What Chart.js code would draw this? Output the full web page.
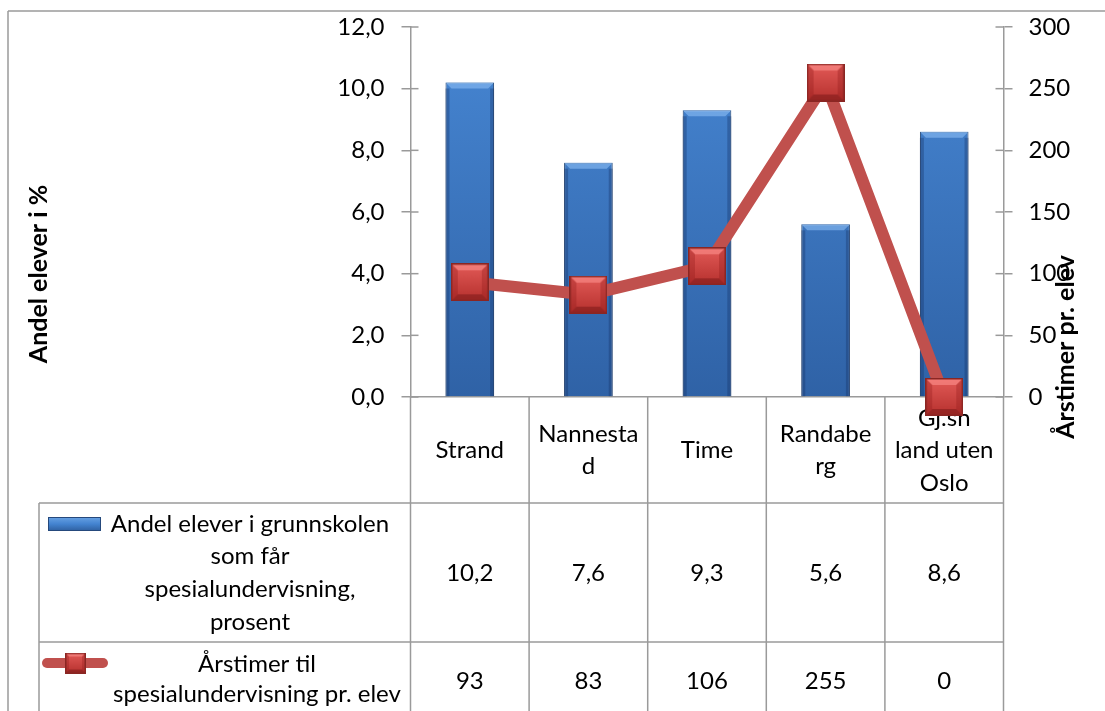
<!DOCTYPE html>
<html lang="no">
<head>
<meta charset="utf-8">
<title>Spesialundervisning</title>
<script src="https://cdn.jsdelivr.net/npm/chart.js@4.4.1/dist/chart.umd.min.js"></script>
<style>
  html, body { margin: 0; padding: 0; background: #fff; }
  #ramme { width: 1105px; height: 711px; position: relative; }
</style>
</head>
<body>
<div id="ramme"><canvas id="grafCanvas"></canvas></div>
<script>
// Kategorier (kolonnetekstene i tabellen, delt i linjer slik som i Excel)
const kommuner = [['Strand'], ['Nannesta', 'd'], ['Time'], ['Randabe', 'rg'], ['Gj.sn', 'land uten', 'Oslo']];

// Serier
const andelElever = [10.2, 7.6, 9.3, 5.6, 8.6];
const arstimer = [93, 83, 106, 255, 0];

// Akser
const venstreAkse = { min: 0, max: 12, steg: 2 };
const hoyreAkse = { min: 0, max: 300, steg: 50 };

// Tekster
const tittelVenstre = 'Andel elever i %';
const tittelHoyre = 'Årstimer pr. elev';
const navnSoyle = ['Andel elever i grunnskolen', 'som får', 'spesialundervisning,', 'prosent'];
const navnLinje = ['Årstimer til', 'spesialundervisning pr. elev'];

const FONT = 'Lato, "Open Sans", sans-serif';
const GRAA = '#9a9a9a';
const ROD = '#c0504d';

// Formatere tall med komma
function komma(v) {
    return v.toFixed(1).replace('.', ',');
}

// Lag markøren (firkant med skråkant) som et lite canvas
function lagMarkor(side) {
    const c = document.createElement('canvas');
    c.width = side;
    c.height = side;
    const g = c.getContext('2d');
    const k = Math.round(side * 0.18);
    // bunnfarge
    const grad = g.createLinearGradient(0, 0, 0, side);
    grad.addColorStop(0, '#e35b58');
    grad.addColorStop(1, '#b5302d');
    g.fillStyle = grad;
    g.fillRect(0, 0, side, side);
    // topp-skråkant
    g.fillStyle = 'rgba(255,150,145,0.55)';
    g.beginPath();
    g.moveTo(0, 0); g.lineTo(side, 0); g.lineTo(side - k, k); g.lineTo(k, k); g.closePath();
    g.fill();
    // sider
    g.fillStyle = 'rgba(150,30,30,0.35)';
    g.beginPath();
    g.moveTo(0, 0); g.lineTo(k, k); g.lineTo(k, side - k); g.lineTo(0, side); g.closePath();
    g.fill();
    g.beginPath();
    g.moveTo(side, 0); g.lineTo(side - k, k); g.lineTo(side - k, side - k); g.lineTo(side, side); g.closePath();
    g.fill();
    // bunn-skråkant
    g.fillStyle = 'rgba(110,20,20,0.45)';
    g.beginPath();
    g.moveTo(0, side); g.lineTo(k, side - k); g.lineTo(side - k, side - k); g.lineTo(side, side); g.closePath();
    g.fill();
    g.strokeStyle = '#8a2623';
    g.lineWidth = 1.5;
    g.strokeRect(0.75, 0.75, side - 1.5, side - 1.5);
    return c;
}

const markorStor = lagMarkor(38);
const markorLiten = lagMarkor(21);

function strek(ctx, x1, y1, x2, y2) {
    ctx.beginPath();
    ctx.moveTo(x1, y1);
    ctx.lineTo(x2, y2);
    ctx.stroke();
}

// Plugin som tegner datatabellen, aksetitlene og rammen
const tabellPlugin = {
    id: 'tabell',
    beforeDatasetsDraw(chart) {
        const ctx = chart.ctx;
        const area = chart.chartArea;
        const xs = chart.scales.x;
        const n = kommuner.length;
        const bredde = (area.right - area.left) / n;
        const bunn = chart.height;
        const rad1 = 503;
        const rad2 = 642;
        const venstreKant = 39;

        ctx.save();
        ctx.strokeStyle = GRAA;
        ctx.lineWidth = 1.5;

        // ytre ramme
        strek(ctx, 8, 11, chart.width, 11);
        strek(ctx, 8, 11, 8, bunn);

        // kolonnelinjer
        for (let i = 0; i <= n; i++) {
            const px = xs.getPixelForValue(0) - bredde / 2 + i * bredde;
            strek(ctx, px, area.bottom, px, bunn);
        }
        // radlinjer
        strek(ctx, venstreKant, rad1, area.right, rad1);
        strek(ctx, venstreKant, rad2, area.right, rad2);
        strek(ctx, venstreKant, rad1, venstreKant, bunn);

        // indre del av tikkmerkene
        const yv = chart.scales.y;
        yv.ticks.forEach((t, i) => {
            const py = yv.getPixelForTick(i);
            strek(ctx, area.left, py, area.left + 8, py);
        });
        const yh = chart.scales.y1;
        yh.ticks.forEach((t, i) => {
            const py = yh.getPixelForTick(i);
            strek(ctx, area.right - 8, py, area.right, py);
        });

        // verdier i tabellen
        ctx.fillStyle = '#000';
        ctx.font = '24px ' + FONT;
        ctx.textAlign = 'center';
        ctx.textBaseline = 'middle';
        andelElever.forEach((v, i) => {
            ctx.fillText(komma(v), xs.getPixelForValue(i), (rad1 + rad2) / 2 + 1);
        });
        arstimer.forEach((v, i) => {
            ctx.fillText(String(v), xs.getPixelForValue(i), 681);
        });

        // serienavn
        navnSoyle.forEach((linje, i) => {
            ctx.fillText(linje, 250, 524 + i * 32.6);
        });
        navnLinje.forEach((linje, i) => {
            ctx.fillText(linje, 257, 664 + i * 30);
        });

        // forklaring: søyle
        const gs = ctx.createLinearGradient(0, 516, 0, 532);
        gs.addColorStop(0, '#6ea6e6');
        gs.addColorStop(0.5, '#4383d0');
        gs.addColorStop(1, '#2c5a98');
        ctx.fillStyle = gs;
        ctx.fillRect(48, 517, 53, 14);
        ctx.strokeStyle = '#25497c';
        ctx.lineWidth = 1;
        ctx.strokeRect(48.5, 517.5, 52, 13);

        // forklaring: linje
        ctx.strokeStyle = ROD;
        ctx.lineWidth = 10;
        ctx.lineCap = 'round';
        strek(ctx, 47, 663, 103, 663);
        ctx.drawImage(markorLiten, 65, 652.5);

        // aksetittel venstre
        ctx.fillStyle = '#000';
        ctx.font = 'bold 25px ' + FONT;
        ctx.save();
        ctx.translate(39, 274);
        ctx.rotate(-Math.PI / 2);
        ctx.fillText(tittelVenstre, 0, 0);
        ctx.restore();
        ctx.restore();
    },
    afterDraw(chart) {
        // aksetittel høyre, over tallene som i originalen
        const ctx = chart.ctx;
        ctx.save();
        ctx.fillStyle = '#000';
        ctx.font = 'bold 25px ' + FONT;
        ctx.textAlign = 'center';
        ctx.textBaseline = 'middle';
        ctx.translate(1066, 347);
        ctx.rotate(-Math.PI / 2);
        ctx.fillText(tittelHoyre, 0, 0);
        ctx.restore();
    },
    afterDatasetDraw(chart, args) {
        // lys skråkant på toppen av søylene
        if (args.index !== 0) return;
        const ctx = chart.ctx;
        const meta = chart.getDatasetMeta(0);
        ctx.save();
        meta.data.forEach(bar => {
            const v = bar.x - bar.width / 2;
            const h = bar.x + bar.width / 2;
            const k = 6;
            ctx.fillStyle = 'rgba(140,190,245,0.6)';
            ctx.beginPath();
            ctx.moveTo(v, bar.y); ctx.lineTo(h, bar.y); ctx.lineTo(h - k, bar.y + k); ctx.lineTo(v + k, bar.y + k);
            ctx.closePath();
            ctx.fill();
            ctx.fillStyle = 'rgba(20,50,100,0.35)';
            ctx.fillRect(v, bar.y + k, 4, bar.base - bar.y - k);
            ctx.fillRect(h - 4, bar.y + k, 4, bar.base - bar.y - k);
        });
        ctx.restore();
    }
};

// Farge for søylene
function soyleFarge(context) {
    const chart = context.chart;
    const area = chart.chartArea;
    if (!area) return '#3b78c4';
    const grad = chart.ctx.createLinearGradient(0, area.top, 0, area.bottom);
    grad.addColorStop(0, '#4787d4');
    grad.addColorStop(1, '#2f62a6');
    return grad;
}

Chart.defaults.font.family = FONT;
Chart.defaults.font.size = 24;
Chart.defaults.color = '#000';

const ctx = document.getElementById('grafCanvas').getContext('2d');
new Chart(ctx, {
    type: 'bar',
    data: {
        labels: kommuner,
        datasets: [
            {
                type: 'bar',
                label: navnSoyle.join(' '),
                data: andelElever,
                yAxisID: 'y',
                backgroundColor: soyleFarge,
                borderColor: '#1f416f',
                borderWidth: 1,
                categoryPercentage: 1,
                barPercentage: 0.41,
                order: 2
            },
            {
                type: 'line',
                label: navnLinje.join(' '),
                data: arstimer,
                yAxisID: 'y1',
                borderColor: ROD,
                borderWidth: 12,
                tension: 0,
                pointStyle: markorStor,
                pointRadius: 19,
                clip: false,
                order: 1
            }
        ]
    },
    options: {
        responsive: true,
        maintainAspectRatio: false,
        animation: false,
        // store markører skal ikke skyve plottet ned
        layout: { autoPadding: false, padding: { top: 27, left: 0, right: 0, bottom: 0 } },
        plugins: {
            legend: { display: false },
            tooltip: { enabled: false }
        },
        scales: {
            x: {
                grid: { display: false, drawTicks: false },
                border: { display: true, color: GRAA, width: 1.5 },
                ticks: {
                    padding: 21,
                    crossAlign: 'center',
                    maxRotation: 0,
                    autoSkip: false,
                    font: { size: 24, lineHeight: 1.354 }
                },
                afterFit(scale) { scale.height = 314; }
            },
            y: {
                position: 'left',
                min: venstreAkse.min,
                max: venstreAkse.max,
                border: { display: true, color: GRAA, width: 1.5 },
                grid: { drawOnChartArea: false, color: GRAA, lineWidth: 1.5, tickLength: 9 },
                ticks: {
                    stepSize: venstreAkse.steg,
                    padding: 17,
                    callback: v => komma(v)
                },
                afterFit(scale) {
                    scale.width = 410.5;
                    scale.paddingTop = 0;
                    scale.paddingBottom = 0;
                }
            },
            y1: {
                position: 'right',
                min: hoyreAkse.min,
                max: hoyreAkse.max,
                border: { display: true, color: GRAA, width: 1.5 },
                grid: { drawOnChartArea: false, color: GRAA, lineWidth: 1.5, tickLength: 9 },
                ticks: {
                    stepSize: hoyreAkse.steg,
                    padding: 16
                },
                afterFit(scale) {
                    scale.width = 101.5;
                    scale.paddingTop = 0;
                    scale.paddingBottom = 0;
                }
            }
        }
    },
    plugins: [tabellPlugin]
});
</script>
</body>
</html>
